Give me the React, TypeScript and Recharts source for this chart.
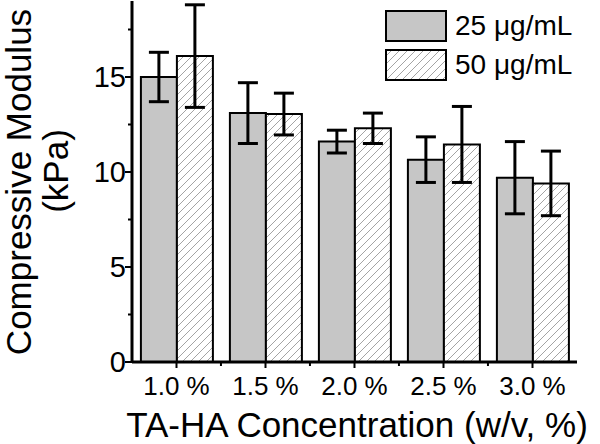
import { BarChart, Bar, XAxis, YAxis, ErrorBar, Legend } from 'recharts';

const categories = ['1.0 %', '1.5 %', '2.0 %', '2.5 %', '3.0 %'];
const low = [15.0, 13.1, 11.6, 10.65, 9.7];
const lowErr = [1.3, 1.6, 0.6, 1.2, 1.9];
const high = [16.1, 13.05, 12.3, 11.45, 9.4];
const highErr = [2.7, 1.1, 0.8, 2.0, 1.7];
const yTicks = [0, 2.5, 5, 7.5, 10, 12.5, 15, 17.5];

const data = categories.map((cat, i) => ({
  cat,
  low: low[i],
  lowErr: lowErr[i],
  high: high[i],
  highErr: highErr[i],
}));

const FONT = '"Liberation Sans", Arial, sans-serif';
const BAND_HALF = 44.45;

const XTick = (props: any) => {
  const { x, y, payload, index } = props;
  return (
    <g>
      <line x1={x} y1={y} x2={x} y2={y + 6} stroke="#000" strokeWidth={2} />
      {index < categories.length - 1 && (
        <line x1={x + BAND_HALF} y1={y} x2={x + BAND_HALF} y2={y + 4} stroke="#000" strokeWidth={2} />
      )}
      <text x={x} y={y + 33} textAnchor="middle" fontSize={26} fontFamily={FONT} fill="#000">
        {payload.value}
      </text>
    </g>
  );
};

const YTick = (props: any) => {
  const { x, y, payload } = props;
  const major = payload.value % 5 === 0;
  return (
    <g>
      <line x1={x} y1={y} x2={x - (major ? 7 : 4)} y2={y} stroke="#000" strokeWidth={2} />
      {major && (
        <text x={x - 6} y={y} dy="0.35em" textAnchor="end" fontSize={29} fontFamily={FONT} fill="#000">
          {payload.value}
        </text>
      )}
    </g>
  );
};

const LegendBox = (props: any) => {
  const { payload } = props;
  return (
    <div style={{ fontFamily: FONT, fontSize: 28, color: '#000' }}>
      {(payload || []).map((p: any) => (
        <div key={p.value} style={{ display: 'flex', alignItems: 'center', height: 39 }}>
          <svg width={62} height={32} style={{ display: 'block' }}>
            <rect x={1} y={1} width={60} height={30} fill={p.color} stroke="#000" strokeWidth={2} />
          </svg>
          <span style={{ marginLeft: 8 }}>{p.value}</span>
        </div>
      ))}
    </div>
  );
};

export default function App() {
  return (
    <div style={{ position: 'absolute', left: 0, top: 0, background: '#fff' }}>
      <BarChart
        width={600}
        height={444}
        data={data}
        margin={{ top: 1, right: 23, left: 72, bottom: 37 }}
        barCategoryGap="10%"
        barGap={0}
      >
        <defs>
          <pattern id="hatch" patternUnits="userSpaceOnUse" width={8} height={8}>
            <rect width={8} height={8} fill="#fff" />
            <path d="M0,8 L8,0 M-2,2 L2,-2 M6,10 L10,6" stroke="#9a9a9a" strokeWidth={0.9} />
          </pattern>
        </defs>
        <XAxis
          dataKey="cat"
          height={45}
          tickSize={0}
          tickMargin={0}
          tick={<XTick />}
          interval={0}
          tickLine={false}
          axisLine={{ stroke: '#000', strokeWidth: 3 }}
          label={{
            content: () => (
              <text x={357} y={437} textAnchor="middle" fontSize={35} fontFamily={FONT} fill="#000">
                TA-HA Concentration (w/v, %)
              </text>
            ),
          }}
        />
        <XAxis
          xAxisId="top"
          dataKey="cat"
          orientation="top"
          height={0}
          tick={false}
          tickLine={false}
          axisLine={{ stroke: '#000', strokeWidth: 3 }}
        />
        <YAxis
          width={60}
          domain={[0, 19]}
          ticks={yTicks}
          interval={0}
          tickSize={0}
          tickMargin={0}
          tick={<YTick />}
          tickLine={false}
          axisLine={{ stroke: '#000', strokeWidth: 3 }}
          label={{
            content: () => (
              <g fontFamily={FONT} fontSize={35} fill="#000">
                <text x={31} y={182} textAnchor="middle" transform="rotate(-90 31 182)">
                  Compressive Modulus
                </text>
                <text x={68} y={171} textAnchor="middle" transform="rotate(-90 68 171)">
                  (kPa)
                </text>
              </g>
            ),
          }}
        />
        <YAxis
          yAxisId="r"
          orientation="right"
          width={0}
          domain={[0, 19]}
          tick={false}
          tickLine={false}
          axisLine={{ stroke: '#000', strokeWidth: 3 }}
        />
        <Legend
          layout="horizontal"
          verticalAlign="middle"
          align="center"
          content={<LegendBox />}
          wrapperStyle={{ top: 6, left: 385, width: 200, height: 80 }}
        />
        <Bar dataKey="low" name="25 μg/mL" fill="#c6c6c6" stroke="#000" strokeWidth={2} isAnimationActive={false}>
          <ErrorBar dataKey="lowErr" width={10} stroke="#000" strokeWidth={3} />
        </Bar>
        <Bar dataKey="high" name="50 μg/mL" fill="url(#hatch)" stroke="#000" strokeWidth={2} isAnimationActive={false}>
          <ErrorBar dataKey="highErr" width={10} stroke="#000" strokeWidth={3} />
        </Bar>
      </BarChart>
    </div>
  );
}
